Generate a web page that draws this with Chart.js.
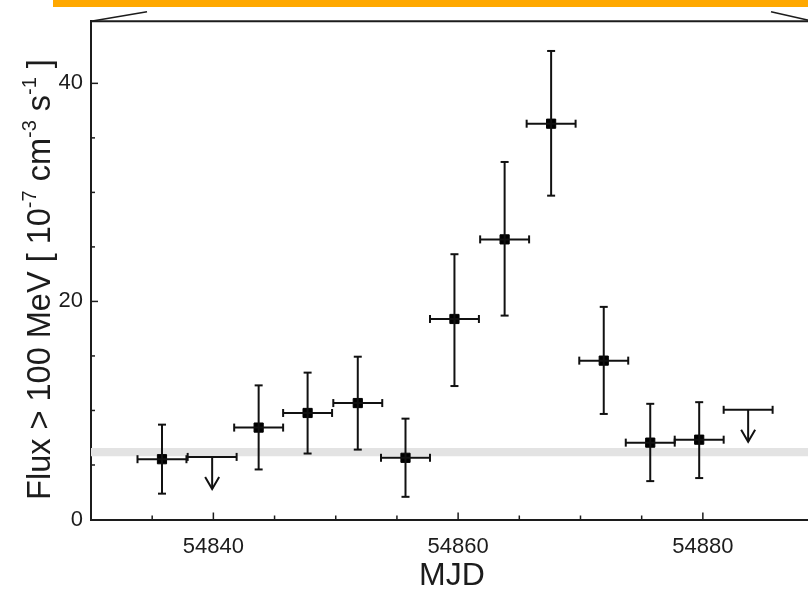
<!DOCTYPE html>
<html>
<head>
<meta charset="utf-8">
<script src="https://cdn.jsdelivr.net/npm/chart.js@4/dist/chart.umd.min.js"></script>
<style>
  html, body { margin: 0; padding: 0; background: #fff; overflow: hidden; }
  #wrap { position: relative; width: 808px; height: 589px; overflow: hidden; }
  #lightCurve { position: absolute; left: 0; top: 0; }
  #topBar { position: absolute; left: 53px; top: 0; width: 755px; height: 7px; background: #ffa800; }
</style>
</head>
<body>
<div id="wrap">
  <canvas id="lightCurve" width="827" height="600"></canvas>
  <div id="topBar"></div>
</div>
<script>
// detections: bin centre (MJD), flux and error bar ends, 10^-7 cm^-2 s^-1
const mjd      = [54835.8, 54843.7, 54847.7, 54851.8, 54855.7, 54859.7, 54863.8, 54867.6, 54871.9, 54875.7, 54879.7];
const flux     = [5.53, 8.43, 9.77, 10.68, 5.66, 18.39, 25.69, 36.30, 14.57, 7.05, 7.32];
const fluxHigh = [8.70, 12.30, 13.47, 14.93, 9.25, 24.33, 32.79, 42.97, 19.50, 10.61, 10.76];
const fluxLow  = [2.37, 4.59, 6.05, 6.41, 2.08, 12.24, 18.70, 29.70, 9.68, 3.52, 3.80];
const binHalfWidth = 2;

// upper limits
const ulMjd   = [54839.9, 54883.7];
const ulFlux  = [5.74, 10.06];

// grey band (average level)
const bandLow  = 5.8;
const bandHigh = 6.55;

// axes
const xMin = 54830, xMax = 54889;
const yMin = 0, yMax = 45.7;
const xLabelEvery = 20, yLabelEvery = 20, minorStep = 5;

const ink = '#1c1c1c';
const fontFamily = '"Liberation Sans", Arial, Helvetica, sans-serif';

function line(ctx, x1, y1, x2, y2) {
    ctx.beginPath();
    ctx.moveTo(x1, y1);
    ctx.lineTo(x2, y2);
    ctx.stroke();
}

const errorBars = {
    id: 'errorBars',
    afterDatasetsDraw(chart) {
        const {ctx, scales: {x, y}} = chart;
        const cap = 4;
        ctx.save();
        ctx.strokeStyle = '#111';
        ctx.lineWidth = 2;
        mjd.forEach((m, i) => {
            const px = x.getPixelForValue(m);
            const py = y.getPixelForValue(flux[i]);
            const top = y.getPixelForValue(fluxHigh[i]);
            const bot = y.getPixelForValue(fluxLow[i]);
            const l = x.getPixelForValue(m - binHalfWidth);
            const r = x.getPixelForValue(m + binHalfWidth);
            line(ctx, px, top, px, bot);
            line(ctx, px - cap, top, px + cap, top);
            line(ctx, px - cap, bot, px + cap, bot);
            line(ctx, l, py, r, py);
            line(ctx, l, py - cap, l, py + cap);
            line(ctx, r, py - cap, r, py + cap);
        });
        ulMjd.forEach((m, i) => {
            const px = x.getPixelForValue(m);
            const py = y.getPixelForValue(ulFlux[i]);
            const l = x.getPixelForValue(m - binHalfWidth);
            const r = x.getPixelForValue(m + binHalfWidth);
            line(ctx, l, py, r, py);
            line(ctx, l, py - cap, l, py + cap);
            line(ctx, r, py - cap, r, py + cap);
            const tip = py + 32;
            line(ctx, px, py, px, tip);
            ctx.beginPath();
            ctx.moveTo(px - 7, tip - 12);
            ctx.lineTo(px, tip);
            ctx.lineTo(px + 7, tip - 12);
            ctx.stroke();
        });
        ctx.restore();
    }
};

const frame = {
    id: 'frame',
    afterDraw(chart) {
        const {ctx, chartArea: a, scales: {x, y}} = chart;
        ctx.save();
        ctx.strokeStyle = ink;
        ctx.lineWidth = 1.5;
        // inward ticks
        x.ticks.forEach(t => {
            if (t.value % minorStep !== 0 || t.value === xMin) return;
            const px = x.getPixelForValue(t.value);
            const len = t.value % xLabelEvery === 0 ? 7 : 4;
            line(ctx, px, a.bottom, px, a.bottom - len);
        });
        y.ticks.forEach(t => {
            if (t.value % minorStep !== 0 || t.value === yMin) return;
            const py = y.getPixelForValue(t.value);
            const len = t.value % yLabelEvery === 0 ? 7 : 4;
            line(ctx, a.left, py, a.left + len, py);
        });
        // top frame line and zoom connector lines
        ctx.lineWidth = 2;
        line(ctx, a.left, a.top, a.right, a.top);
        ctx.lineWidth = 1.5;
        line(ctx, a.left, a.top, a.left + 56, a.top - 9.5);
        line(ctx, a.right - 42, a.top - 9.5, a.right, a.top);

        // y axis title with superscripts
        const size = 32.5, supSize = 20;
        const parts = [
            {t: 'Flux > 100 MeV [ 10'}, {t: '-7', sup: true}, {t: ' cm'}, {t: '-3', sup: true},
            {t: ' s'}, {t: '-1', sup: true}, {t: ' ]'}
        ];
        let total = 0;
        parts.forEach(p => {
            ctx.font = (p.sup ? supSize : size) + 'px ' + fontFamily;
            p.w = ctx.measureText(p.t).width;
            total += p.w;
        });
        ctx.translate(41, a.bottom - 240);
        ctx.rotate(-Math.PI / 2);
        ctx.fillStyle = ink;
        ctx.textBaseline = 'middle';
        let cx = -total / 2;
        parts.forEach(p => {
            ctx.font = (p.sup ? supSize : size) + 'px ' + fontFamily;
            ctx.fillText(p.t, cx, p.sup ? -11 : 0);
            cx += p.w;
        });
        ctx.restore();
    }
};

const ctx = document.getElementById('lightCurve');
new Chart(ctx, {
    type: 'scatter',
    data: {
        datasets: [
            {
                label: 'Flux',
                data: mjd.map((m, i) => ({x: m, y: flux[i]})),
                pointStyle: 'rect',
                pointRadius: 6.5,
                backgroundColor: '#000',
                borderColor: '#000',
                borderWidth: 1,
            },
            {
                label: 'Upper limits',
                data: ulMjd.map((m, i) => ({x: m, y: ulFlux[i]})),
                pointRadius: 0,
            },
            {
                label: 'band top',
                type: 'line',
                data: [{x: xMin, y: bandHigh}, {x: xMax, y: bandHigh}],
                borderWidth: 0,
                pointRadius: 0,
                backgroundColor: '#e3e3e3',
                fill: '+1',
            },
            {
                label: 'band bottom',
                type: 'line',
                data: [{x: xMin, y: bandLow}, {x: xMax, y: bandLow}],
                borderWidth: 0,
                pointRadius: 0,
                fill: false,
            }
        ]
    },
    options: {
        responsive: false,
        animation: false,
        plugins: {
            legend: {display: false},
            tooltip: {enabled: false},
        },
        layout: {padding: {top: 19, right: 0, left: 0, bottom: 0}},
        scales: {
            x: {
                type: 'linear',
                min: xMin,
                max: xMax,
                grid: {display: false, drawTicks: false},
                border: {display: true, color: ink, width: 2},
                ticks: {
                    stepSize: minorStep,
                    autoSkip: false,
                    maxRotation: 0,
                    padding: 14,
                    color: ink,
                    font: {family: fontFamily, size: 22},
                    callback: v => v % xLabelEvery === 0 ? String(v) : '',
                },
                title: {
                    display: true,
                    text: 'MJD',
                    color: ink,
                    font: {family: fontFamily, size: 32},
                    padding: {top: 0, bottom: 5},
                },
                afterFit: s => { s.height = 80.5; },
            },
            y: {
                min: yMin,
                max: yMax,
                grid: {display: false, drawTicks: false},
                border: {display: true, color: ink, width: 2},
                ticks: {
                    stepSize: minorStep,
                    autoSkip: false,
                    padding: 8,
                    color: ink,
                    font: {family: fontFamily, size: 22},
                    callback: v => v % yLabelEvery === 0 ? String(v) : '',
                },
                afterFit: s => { s.width = 91; },
            }
        }
    },
    plugins: [errorBars, frame],
});
</script>
</body>
</html>
